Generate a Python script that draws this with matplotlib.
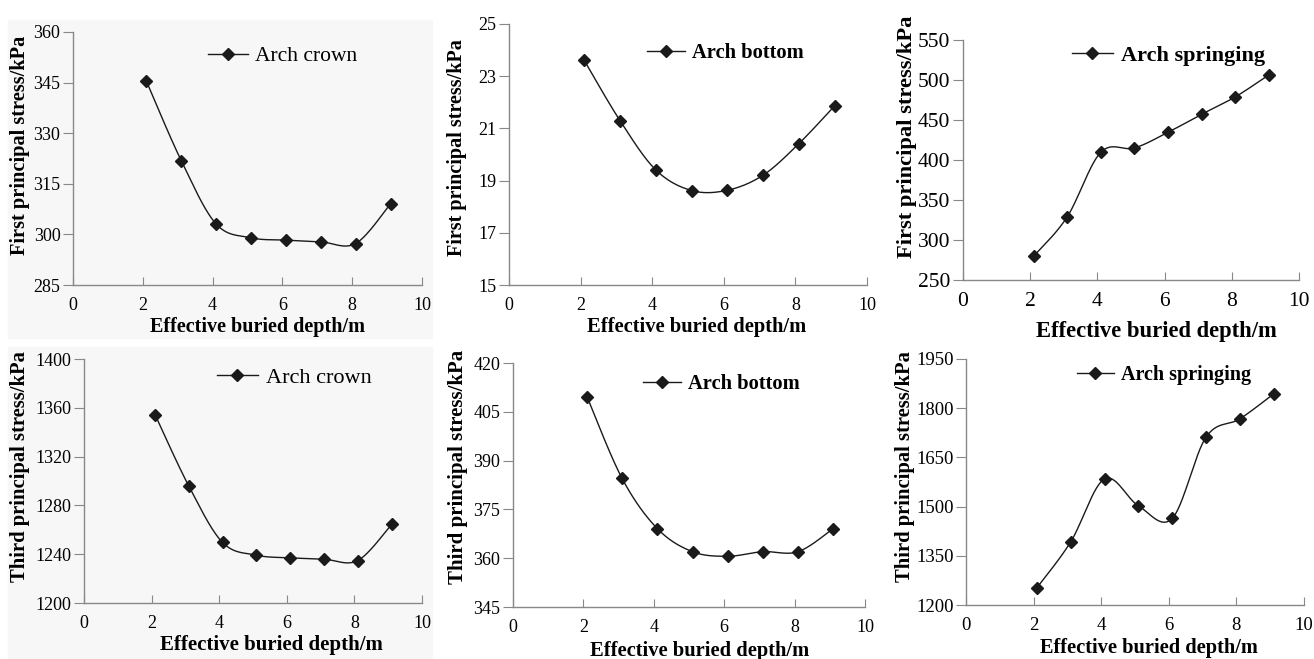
import numpy as np
import matplotlib
matplotlib.use("Agg")
import matplotlib.pyplot as plt
from matplotlib.patches import Rectangle

plt.rcParams["font.family"] = ["Liberation Serif", "DejaVu Serif"]

depth = [2.1, 3.1, 4.1, 5.1, 6.1, 7.1, 8.1, 9.1]

first_crown = [345.5, 321.9, 303.1, 299.0, 298.3, 297.8, 297.3, 309.1]
first_bottom = [23.61, 21.30, 19.41, 18.62, 18.63, 19.21, 20.42, 21.87]
first_springing = [279.6, 328.8, 409.6, 415.0, 434.6, 457.1, 478.8, 506.3]
third_crown = [1354.5, 1295.9, 1249.6, 1239.2, 1237.0, 1235.9, 1234.8, 1264.4]
third_bottom = [409.7, 384.5, 369.1, 362.0, 360.6, 362.0, 362.0, 369.1]
third_springing = [1252.8, 1392.8, 1584.6, 1502.4, 1463.9, 1711.5, 1767.3, 1843.4]

x_ticks = [0, 2, 4, 6, 8, 10]
xlabel = "Effective buried depth/m"

W, H = 1314, 659


def smooth(xs, ys, n=30):
    # Catmull-Rom style smoothing through the points (like Excel's smoothed line)
    xs = np.asarray(xs, float)
    ys = np.asarray(ys, float)
    px = np.concatenate([[xs[0]], xs, [xs[-1]]])
    py = np.concatenate([[ys[0]], ys, [ys[-1]]])
    ox, oy = [], []
    t = np.linspace(0, 1, n)
    for i in range(1, len(px) - 2):
        p0 = np.array([px[i], py[i]])
        p3 = np.array([px[i + 1], py[i + 1]])
        c1 = p0 + (np.array([px[i + 1], py[i + 1]]) - np.array([px[i - 1], py[i - 1]])) / 6
        c2 = p3 - (np.array([px[i + 2], py[i + 2]]) - np.array([px[i], py[i]])) / 6
        b = ((1 - t) ** 3)[:, None] * p0 + (3 * (1 - t) ** 2 * t)[:, None] * c1 \
            + (3 * (1 - t) * t ** 2)[:, None] * c2 + (t ** 3)[:, None] * p3
        ox.extend(b[:, 0])
        oy.extend(b[:, 1])
    return ox, oy


# data per panel
panel_data = [
    (first_crown, [285, 300, 315, 330, 345, 360], "First principal stress/kPa", "Arch crown"),
    (first_bottom, [15, 17, 19, 21, 23, 25], "First principal stress/kPa", "Arch bottom"),
    (first_springing, [250, 300, 350, 400, 450, 500, 550], "First principal stress/kPa", "Arch springing"),
    (third_crown, [1200, 1240, 1280, 1320, 1360, 1400], "Third principal stress/kPa", "Arch crown"),
    (third_bottom, [345, 360, 375, 390, 405, 420], "Third principal stress/kPa", "Arch bottom"),
    (third_springing, [1200, 1350, 1500, 1650, 1800, 1950], "Third principal stress/kPa", "Arch springing"),
]

# layout per panel (pixels from top-left): axes box, ylabel centre/size, xlabel centre/size,
# tick size, legend anchor (axes coords), legend size, legend bold
layout = [
    ((73, 32, 422, 285), (20, 145, 14.7), (257, 327, 14.5), 13, (0.387, 0.905), 15.5, False),
    ((509, 24, 867, 285), (457, 148, 14.5), (697, 327, 14.8), 13, (0.385, 0.89), 14.8, True),
    ((963, 40, 1299, 280), (907, 137, 16.2), (1156, 332, 16.3), 15.5, (0.324, 0.935), 16, True),
    ((84, 359, 422, 603), (20, 467, 14.9), (271, 645, 15), 13, (0.393, 0.925), 16, False),
    ((513, 363, 865, 607), (458, 467, 15), (700, 651, 14.8), 13, (0.369, 0.912), 14.8, True),
    ((966, 359, 1304, 605), (905, 467, 14.9), (1149, 648, 14.7), 13.5, (0.328, 0.935), 14.5, True),
]

fig = plt.figure(figsize=(W / 100, H / 100), dpi=100)

# faint grey backgrounds behind the arch crown panels
fig.patches.append(Rectangle((8 / W, 1 - 338 / H), 424 / W, 318 / H,
                             transform=fig.transFigure, color="#f7f7f7", zorder=-10))
fig.patches.append(Rectangle((8 / W, 0), 424 / W, 1 - 347 / H,
                             transform=fig.transFigure, color="#f7f7f7", zorder=-10))

for (vals, yt, ylab, name), (box, ylp, xlp, tsize, lpos, lsize, bold) in zip(panel_data, layout):
    l, t, r, b = box
    ax = fig.add_axes([l / W, 1 - b / H, (r - l) / W, (b - t) / H])
    ax.patch.set_alpha(0)
    sx, sy = smooth(depth, vals)
    ax.plot(sx, sy, color="#1a1a1a", lw=1.0)
    ax.plot(depth, vals, ls="none", marker="D", ms=6, color="#1a1a1a")
    ax.plot([], [], color="#1a1a1a", lw=1.0, marker="D", ms=6, label=name)
    ax.set_xlim(0, 10)
    ax.set_ylim(yt[0], yt[-1])
    ax.set_xticks(x_ticks)
    ax.set_yticks(yt)
    for s in ["top", "right"]:
        ax.spines[s].set_visible(False)
    for s in ["left", "bottom"]:
        ax.spines[s].set_color("#888888")
        ax.spines[s].set_linewidth(1.0)
    ax.tick_params(axis="y", direction="out", length=7, color="#888888", labelsize=tsize, pad=2)
    ax.tick_params(axis="x", direction="in", length=6, color="#888888", labelsize=tsize, pad=9)
    fig.text(ylp[0] / W, 1 - ylp[1] / H, ylab, rotation=90, ha="center", va="center",
             fontsize=ylp[2], fontweight="bold")
    fig.text(xlp[0] / W, 1 - xlp[1] / H, xlabel, ha="center", va="center",
             fontsize=xlp[2], fontweight="bold")
    leg = ax.legend(loc="center left", bbox_to_anchor=lpos, frameon=False,
                    fontsize=lsize, handlelength=1.85,
                    handletextpad=0.35, borderpad=0, borderaxespad=0)
    if bold:
        for txt in leg.get_texts():
            txt.set_fontweight("bold")

fig.savefig("out.png", dpi=100)
